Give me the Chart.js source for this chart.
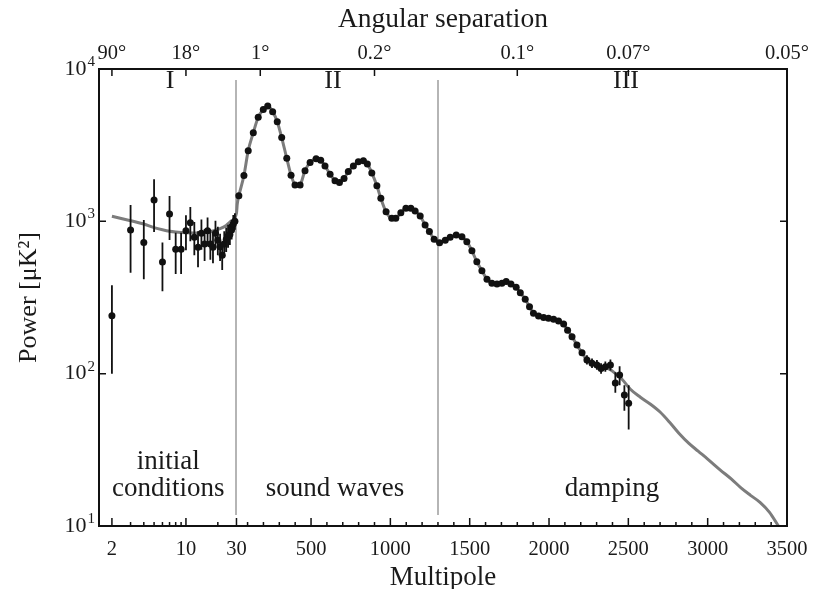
<!DOCTYPE html>
<html>
<head>
<meta charset="utf-8">
<script src="https://cdn.jsdelivr.net/npm/chart.js@4.4.1/dist/chart.umd.min.js"></script>
<style>
  html, body { margin: 0; padding: 0; background: #fff; }
  #wrap { width: 819px; height: 589px; }
</style>
</head>
<body>
<div id="wrap"><canvas id="cmb" width="819" height="589"></canvas></div>
<script>
// best-fit model curve: multipole and power [uK^2]
const theoryL = [2, 3, 4, 5, 6, 7, 8, 10, 12, 15, 18, 21, 24, 27, 30, 35,
  45, 77, 104, 136, 167, 199, 227, 258, 287, 315, 347, 374, 399, 415, 431, 462, 494, 532, 561, 588,
  620, 651, 679, 708, 735, 767, 798, 830, 855, 883, 915, 940, 973, 1009, 1034, 1066, 1098, 1129, 1156,
  1188, 1219, 1246, 1276, 1310, 1346, 1377, 1415, 1451, 1482, 1514, 1545, 1577, 1609, 1640, 1672, 1703,
  1730, 1760, 1793, 1819, 1850, 1877, 1902, 1934, 1966, 1997, 2029, 2060, 2092, 2117, 2145, 2176, 2208,
  2239, 2271, 2302, 2340, 2380, 2420, 2460, 2513, 2576, 2640, 2700, 2760, 2820, 2880, 2940, 3000,
  3080, 3150, 3210, 3270, 3330, 3390, 3446, 3500];
const theoryD = [1080, 1010, 960, 910, 880, 860, 850, 840, 838, 845, 865, 895, 940, 1010, 1130, 1300,
  1470, 2000, 2910, 3820, 4820, 5430, 5710, 5250, 4510, 3550, 2590, 2010, 1730, 1700, 1730, 2150, 2430, 2580, 2520, 2310,
  2040, 1850, 1800, 1910, 2120, 2310, 2460, 2500, 2380, 2080, 1710, 1415, 1157, 1047, 1047, 1138, 1217, 1217, 1170,
  1085, 946, 856, 763, 724, 752, 785, 814, 793, 735, 641, 543, 474, 416, 392, 388, 392,
  402, 388, 369, 340, 308, 275, 249, 239, 234, 231, 228, 222, 212, 193, 175, 154, 137,
  123, 117, 114, 110, 107, 100, 92, 79, 70, 63, 56, 48, 40.5, 35, 31, 27.5,
  23.3, 20.3, 17.8, 15.9, 14.3, 12.3, 10, 8.3];

// measured band powers
const obsL = [2, 3, 4, 5, 6, 7, 8, 9, 10, 11, 12, 13, 14, 15, 16, 17, 18, 19, 20, 21, 22, 23, 24, 25, 26, 27, 28, 29,
  45, 77, 104, 136, 167, 199, 227, 258, 287, 315, 347, 374, 399, 431, 462, 494, 532, 561, 588,
  620, 651, 679, 708, 735, 767, 798, 830, 855, 883, 915, 940, 973, 1009, 1034, 1066, 1098, 1129, 1156,
  1188, 1219, 1246, 1276, 1310, 1346, 1377, 1415, 1451, 1482, 1514, 1545, 1577, 1609, 1640, 1672, 1703,
  1730, 1760, 1793, 1819, 1850, 1877, 1902, 1934, 1966, 1997, 2029, 2060, 2092, 2117, 2145, 2176, 2208,
  2239, 2271, 2302, 2328, 2355, 2387, 2418, 2445, 2475, 2502];
const obsD = [240, 877, 726, 1380, 541, 1116, 655, 655, 867, 980, 785, 675, 834, 710, 867, 710, 675, 834, 750, 680, 600, 710, 760, 800, 820, 880, 960, 1000,
  1470, 2000, 2910, 3820, 4820, 5430, 5710, 5250, 4510, 3550, 2590, 2010, 1730, 1730, 2150, 2430, 2580, 2520, 2310,
  2040, 1850, 1800, 1910, 2120, 2310, 2460, 2500, 2380, 2080, 1710, 1415, 1157, 1047, 1047, 1138, 1217, 1217, 1170,
  1085, 946, 856, 763, 724, 752, 785, 814, 793, 735, 641, 543, 474, 416, 392, 388, 392,
  402, 388, 369, 340, 308, 275, 249, 239, 234, 231, 228, 222, 212, 193, 175, 154, 137,
  123, 117, 114, 108, 111, 114, 87, 98, 72.5, 64];

// error bars where they are visible
const errL = [2, 3, 4, 5, 6, 7, 8, 9, 10, 11, 12, 13, 14, 15, 16, 17, 18, 19, 20, 21, 22, 23, 24, 25, 26, 27, 28, 29,
  2239, 2271, 2302, 2328, 2355, 2387, 2418, 2445, 2475, 2502];
const errLo = [100, 460, 417, 852, 348, 754, 451, 451, 646, 740, 600, 500, 650, 550, 690, 560, 530, 670, 600, 550, 480, 580, 630, 670, 700, 760, 840, 880,
  115, 109, 106, 100, 103, 105, 75, 84, 57, 43];
const errHi = [380, 1280, 1020, 1890, 725, 1466, 841, 841, 1097, 1240, 990, 860, 1030, 890, 1060, 880, 840, 1010, 920, 830, 740, 860, 910, 950, 960, 1020, 1100, 1130,
  132, 126, 123, 117, 120, 124, 102, 112, 84, 84];

// axes
const bottomTicks = [2, 10, 30, 500, 1000, 1500, 2000, 2500, 3000, 3500];
const topTickL = [2, 10, 180, 900, 1800, 2500, 3500];
const topTickLabels = ['90°', '18°', '1°', '0.2°', '0.1°', '0.07°', '0.05°'];
const yTicks = [10, 100, 1000, 10000];
const yTickExp = ['1', '2', '3', '4'];
const regionEdges = [30, 1300];

const bottomMinor = [3, 4, 5, 6, 7, 8, 9, 20];
for (let l = 100; l < 3500; l += 100) if (l % 500 !== 0) bottomMinor.push(l);

const notes = [
  { text: 'I', l: 7.1, d: 8300, size: 26 },
  { text: 'II', l: 638, d: 8300, size: 26 },
  { text: 'III', l: 2485, d: 8300, size: 26 },
  { text: 'initial', l: 6.8, d: 26.3, size: 27 },
  { text: 'conditions', l: 6.8, d: 17.5, size: 27 },
  { text: 'sound waves', l: 651, d: 17.5, size: 27 },
  { text: 'damping', l: 2397, d: 17.5, size: 27 }
];

const FONT = "'Liberation Serif', serif";
const INK = '#1a1a1a';

// log below l=30, linear above, like the original figure
const LOG_PX = 105.9, LIN_PX = 0.15865;
function warp(l) { return l <= 30 ? LOG_PX * Math.log10(l / 30) : LIN_PX * (l - 30); }
function unwarp(u) { return u <= 0 ? 30 * Math.pow(10, u / LOG_PX) : 30 + u / LIN_PX; }

class MultipoleScale extends Chart.LinearScale {
  getPixelForValue(v) {
    if (v === null || v === undefined || isNaN(v)) return NaN;
    const a = warp(this.min), b = warp(this.max);
    return this.getPixelForDecimal((warp(v) - a) / (b - a));
  }
  getValueForPixel(p) {
    const a = warp(this.min), b = warp(this.max);
    return unwarp(a + this.getDecimalForPixel(p) * (b - a));
  }
}
MultipoleScale.id = 'multipole';
MultipoleScale.defaults = Chart.LinearScale.defaults;
Chart.register(MultipoleScale);

Chart.defaults.font.family = FONT;
Chart.defaults.color = INK;

const theoryPts = theoryL.map((l, i) => ({ x: l, y: theoryD[i] }));
const obsPts = obsL.map((l, i) => ({ x: l, y: obsD[i] }));
const errPts = [];
errL.forEach((l, i) => {
  errPts.push({ x: l, y: errLo[i] }, { x: l, y: errHi[i] }, { x: l, y: null });
});

const frame = {
  id: 'frame',
  beforeDatasetsDraw(chart) {
    const { ctx, chartArea: a, scales: { x, y } } = chart;
    ctx.save();
    ctx.strokeStyle = '#b5b5b5';
    ctx.lineWidth = 2;
    regionEdges.forEach(l => {
      const px = Math.round(x.getPixelForValue(l));
      ctx.beginPath();
      ctx.moveTo(px, a.top + 11);
      ctx.lineTo(px, a.bottom - 11);
      ctx.stroke();
    });
    ctx.fillStyle = INK;
    ctx.textAlign = 'center';
    ctx.textBaseline = 'middle';
    notes.forEach(n => {
      ctx.font = n.size + 'px ' + FONT;
      ctx.fillText(n.text, x.getPixelForValue(n.l), y.getPixelForValue(n.d));
    });
    ctx.restore();
  },
  afterDatasetsDraw(chart) {
    const { ctx, chartArea: a, scales: { x, x2, y } } = chart;
    ctx.save();
    ctx.strokeStyle = '#111';
    ctx.lineWidth = 1.5;
    ctx.beginPath();
    bottomTicks.forEach(l => {
      const px = x.getPixelForValue(l);
      ctx.moveTo(px, a.bottom); ctx.lineTo(px, a.bottom - 8);
    });
    bottomMinor.forEach(l => {
      const px = x.getPixelForValue(l);
      ctx.moveTo(px, a.bottom); ctx.lineTo(px, a.bottom - 4);
    });
    topTickL.forEach(l => {
      const px = x2.getPixelForValue(l);
      ctx.moveTo(px, a.top); ctx.lineTo(px, a.top + 7);
    });
    yTicks.forEach(v => {
      const py = y.getPixelForValue(v);
      ctx.moveTo(a.left, py); ctx.lineTo(a.left + 7, py);
      ctx.moveTo(a.right, py); ctx.lineTo(a.right - 7, py);
    });
    ctx.stroke();

    ctx.lineWidth = 2;
    ctx.strokeRect(a.left, a.top, a.right - a.left, a.bottom - a.top);

    // y tick labels with superscript exponents
    ctx.fillStyle = INK;
    ctx.textBaseline = 'middle';
    yTicks.forEach((v, i) => {
      const py = y.getPixelForValue(v);
      ctx.font = '15px ' + FONT;
      const ew = ctx.measureText(yTickExp[i]).width;
      ctx.textAlign = 'right';
      ctx.fillText(yTickExp[i], a.left - 4, py - 7);
      ctx.font = '22px ' + FONT;
      ctx.fillText('10', a.left - 5 - ew, py);
    });
    ctx.restore();
  }
};

new Chart(document.getElementById('cmb'), {
  type: 'line',
  data: {
    datasets: [
      {
        label: 'data',
        data: obsPts,
        showLine: false,
        pointRadius: 3.5,
        pointBackgroundColor: '#111',
        pointBorderWidth: 0,
        xAxisID: 'x', yAxisID: 'y'
      },
      {
        label: 'errors',
        data: errPts,
        borderColor: '#111',
        borderWidth: 1.8,
        pointRadius: 0,
        spanGaps: false,
        xAxisID: 'x', yAxisID: 'y'
      },
      {
        label: 'model',
        data: theoryPts,
        borderColor: '#7c7c7c',
        borderWidth: 3,
        pointRadius: 0,
        cubicInterpolationMode: 'monotone',
        xAxisID: 'x', yAxisID: 'y'
      }
    ]
  },
  options: {
    responsive: false,
    animation: false,
    devicePixelRatio: 1,
    layout: { padding: { left: 0, right: 32, top: 0, bottom: 0 } },
    plugins: { legend: { display: false }, tooltip: { enabled: false } },
    scales: {
      x: {
        type: 'multipole',
        position: 'bottom',
        min: 1.51, max: 3500,
        bounds: 'data',
        grid: { display: false },
        border: { display: false },
        afterBuildTicks: s => { s.ticks = bottomTicks.map(v => ({ value: v })); },
        afterFit: s => { s.height = 63; s.paddingLeft = 0; s.paddingRight = 0; },
        ticks: {
          autoSkip: false, maxRotation: 0, padding: 3,
          font: { size: 20.5 },
          callback: v => String(v)
        },
        title: {
          display: true, text: 'Multipole',
          font: { size: 27, lineHeight: 1 },
          padding: { top: 0, bottom: -2 }
        }
      },
      x2: {
        type: 'multipole',
        position: 'top',
        min: 1.51, max: 3500,
        bounds: 'data',
        grid: { display: false },
        border: { display: false },
        afterBuildTicks: s => { s.ticks = topTickL.map(v => ({ value: v })); },
        afterFit: s => { s.height = 69; s.paddingLeft = 0; s.paddingRight = 0; },
        ticks: {
          autoSkip: false, maxRotation: 0, padding: -5,
          font: { size: 20.5 },
          callback: (v, i) => topTickLabels[i]
        },
        title: {
          display: true, text: 'Angular separation',
          font: { size: 27.5, lineHeight: 1 },
          padding: { top: 6, bottom: 0 }
        }
      },
      y: {
        type: 'logarithmic',
        position: 'left',
        min: 10, max: 10000,
        grid: { display: false },
        border: { display: false },
        afterBuildTicks: s => { s.ticks = yTicks.map(v => ({ value: v })); },
        afterFit: s => { s.width = 99; },
        ticks: { display: false },
        title: {
          display: true, text: 'Power [μK²]',
          font: { size: 26, lineHeight: 1 },
          padding: { top: 16, bottom: 0 }
        }
      }
    }
  },
  plugins: [frame]
});
</script>
</body>
</html>
